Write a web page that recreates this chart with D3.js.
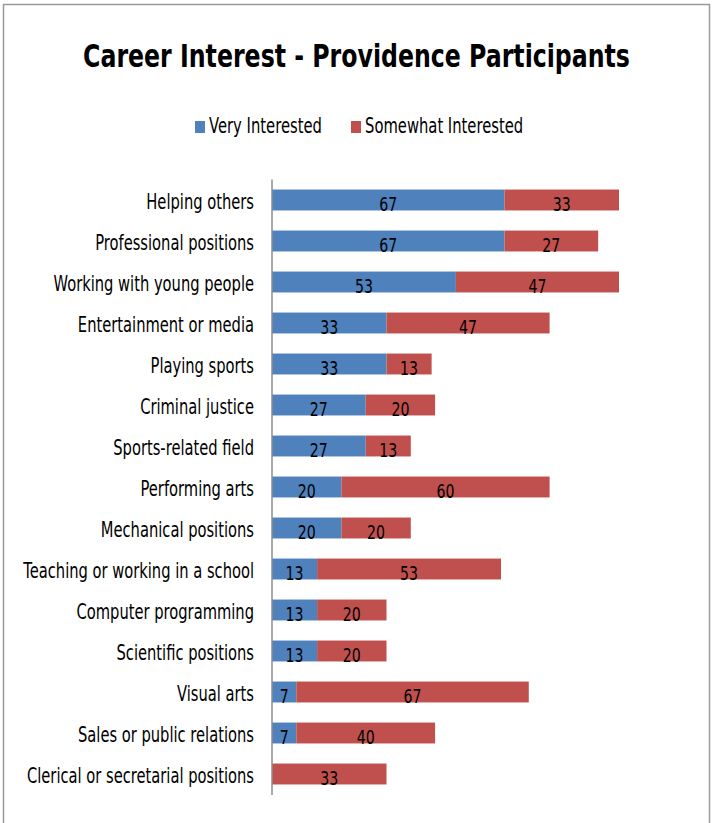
<!DOCTYPE html>
<html>
<head>
<meta charset="utf-8">
<script src="https://cdn.jsdelivr.net/npm/d3@7"></script>
<style>
  html, body { margin: 0; padding: 0; background: #fff; }
  svg { display: block; }
  text { font-family: "DejaVu Sans", sans-serif; fill: #000; }
</style>
</head>
<body>
<svg id="chart" width="718" height="823"></svg>
<script>
// Career interest categories, top to bottom
const categories = [
  "Helping others",
  "Professional positions",
  "Working with  young people",
  "Entertainment or media",
  "Playing sports",
  "Criminal justice",
  "Sports-related field",
  "Performing arts",
  "Mechanical positions",
  "Teaching or working in a school",
  "Computer programming",
  "Scientific positions",
  "Visual arts",
  "Sales or public relations",
  "Clerical or secretarial positions"
];
// Percent of participants, per category
const veryInterested =     [67, 67, 53, 33, 33, 27, 27, 20, 20, 13, 13, 13, 7, 7, 0];
const somewhatInterested = [33, 27, 47, 47, 13, 20, 13, 60, 20, 53, 20, 20, 67, 40, 33];
const seriesNames = ["Very Interested", "Somewhat Interested"];
const seriesColors = ["#4F81BD", "#C0504D"];

const svg = d3.select("#chart");
const H = 823;

// Narrow a text horizontally by factor k around its own x/y anchor point
function narrow(sel, k) {
  sel.each(function () {
    const t = d3.select(this);
    const tx = +t.attr("x") || 0, ty = +t.attr("y") || 0;
    t.attr("x", 0).attr("y", 0)
     .attr("transform", `translate(${tx},${ty}) scale(${k},1)`);
  });
}
// Factor that brings a sample string at a given size/weight to a target width
function factorFor(sample, size, target, weight) {
  const t = svg.append("text").attr("font-size", size).attr("font-weight", weight || "normal").text(sample);
  const w = t.node().getComputedTextLength();
  t.remove();
  return target / w;
}

// outer chart frame
svg.append("rect")
  .attr("x", 3.5).attr("y", 4.5)
  .attr("width", 706).attr("height", H + 10)
  .attr("fill", "#fff").attr("stroke", "#9a9a9a").attr("stroke-width", 1.5);

// title
const titleText = "Career Interest - Providence Participants";
svg.append("text")
  .attr("x", 356.5).attr("y", 67)
  .attr("text-anchor", "middle")
  .attr("font-size", 32).attr("font-weight", "bold")
  .text(titleText)
  .call(narrow, factorFor(titleText, 32, 547, "bold"));

// layout
const x0 = 272;
const x = d3.scaleLinear().domain([0, 100]).range([x0, 619]);
const y = d3.scaleBand().domain(categories).range([179.5, 794.5]).paddingInner(0.49).paddingOuter(0.245);

const rows = categories.map((c, i) => ({ cat: c, v: [veryInterested[i], somewhatInterested[i]] }));
const stack = d3.stack().keys([0, 1]).value((d, k) => d.v[k]);
const layers = stack(rows);

const kLabel = factorFor("60", 20, 18);
const g = svg.append("g");
layers.forEach((layer, k) => {
  const segs = layer.filter(d => d[1] > d[0]);
  const lg = g.append("g");
  lg.selectAll("rect").data(segs).join("rect")
    .attr("x", d => x(d[0]))
    .attr("y", d => y(d.data.cat))
    .attr("width", d => x(d[1]) - x(d[0]))
    .attr("height", y.bandwidth())
    .attr("fill", seriesColors[k]);
  lg.selectAll("text").data(segs).join("text")
    .attr("x", d => (x(d[0]) + x(d[1])) / 2)
    .attr("y", d => y(d.data.cat) + y.bandwidth() + 1)
    .attr("text-anchor", "middle")
    .attr("font-size", 20)
    .text(d => d[1] - d[0])
    .call(narrow, kLabel);
});

// category axis
const kCat = factorFor("Teaching or working in a school", 21, 231);
const yAxis = d3.axisLeft(y).tickSize(0).tickPadding(18);
const ag = svg.append("g").attr("transform", `translate(${x0},0)`).call(yAxis);
ag.select(".domain").attr("stroke", "#8c8c8c").attr("stroke-width", 1.5)
  .attr("d", "M0,179.5V795");
ag.selectAll(".tick text")
  .attr("font-size", 21)
  .attr("font-family", "\"DejaVu Sans\", sans-serif")
  .attr("fill", "#000")
  .attr("dy", null)
  .attr("y", y.bandwidth() / 2 - 1.5)
  .call(narrow, kCat);

// legend
const kLeg = factorFor("Very Interested", 20.5, 113);
const legendItems = [
  { name: seriesNames[0], color: seriesColors[0], x: 195 },
  { name: seriesNames[1], color: seriesColors[1], x: 351 }
];
const leg = svg.append("g");
legendItems.forEach(it => {
  leg.append("rect").attr("x", it.x).attr("y", 121).attr("width", 10).attr("height", 12).attr("fill", it.color);
  leg.append("text").attr("x", it.x + 14).attr("y", 133).attr("font-size", 20.5).text(it.name).call(narrow, kLeg);
});
</script>
</body>
</html>
